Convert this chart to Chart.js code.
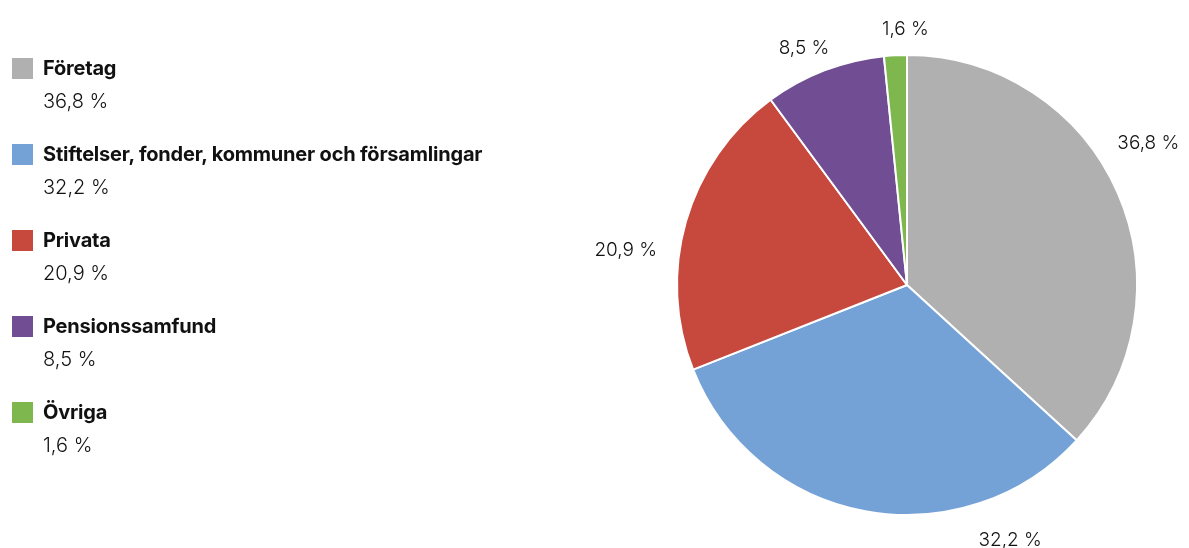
<!DOCTYPE html>
<html>
<head>
<meta charset="utf-8">
<script src="https://cdn.jsdelivr.net/npm/chart.js@4/dist/chart.umd.min.js"></script>
<style>
  html, body { margin: 0; padding: 0; background: #fff; }
  #wrap { position: relative; width: 1189px; height: 548px; font-family: Inter, "Open Sans", sans-serif; color: #111; }
  #chart { position: absolute; left: 0; top: 0; }
  #legend { position: absolute; left: 12px; top: 58px; }
  .item { position: relative; height: 86px; }
  .box { position: absolute; left: 0; top: 0; width: 21px; height: 21px; }
  .name { position: absolute; left: 31px; top: -2px; font-size: 20px; font-weight: 700; white-space: nowrap; letter-spacing: -0.2px; }
  .val { position: absolute; left: 31px; top: 31px; font-size: 20px; font-weight: 300; white-space: nowrap; }
</style>
</head>
<body>
<div id="wrap">
  <canvas id="chart" width="1189" height="548"></canvas>
  <div id="legend"></div>
</div>
<script>
const categories = ["Företag", "Stiftelser, fonder, kommuner och församlingar", "Privata", "Pensionssamfund", "Övriga"];
const shares = [36.8, 32.2, 20.9, 8.5, 1.6];
const colors = ["#b0b0b0", "#74a2d6", "#c7493e", "#714e94", "#7fb74f"];

const fmt = (v) => v.toFixed(1).replace(".", ",") + " %";

// legend on the left, built from the same arrays
const legend = document.getElementById("legend");
categories.forEach((c, i) => {
  const el = document.createElement("div");
  el.className = "item";
  el.innerHTML = '<div class="box" style="background:' + colors[i] + '"></div>' +
    '<div class="name">' + c + '</div><div class="val">' + fmt(shares[i]) + '</div>';
  legend.appendChild(el);
});

// percent labels outside the pie, placed along each arc
const outLabels = {
  id: "outLabels",
  afterDatasetsDraw(chart, args, opts) {
    const ctx = chart.ctx;
    const meta = chart.getDatasetMeta(0);
    ctx.save();
    ctx.font = opts.font;
    ctx.fillStyle = opts.color;
    ctx.textAlign = "center";
    ctx.textBaseline = "middle";
    meta.data.forEach((arc, i) => {
      const a = arc.startAngle + (arc.endAngle - arc.startAngle) * opts.anchors[i];
      const txt = fmt(shares[i]);
      const hw = ctx.measureText(txt).width / 2, hh = 10;
      const c = Math.cos(a), s = Math.sin(a);
      const ext = Math.abs(hw * c) + Math.abs(hh * s);
      const d = arc.outerRadius + opts.gaps[i] + ext;
      ctx.fillText(txt, arc.x + d * c, arc.y + d * s);
    });
    ctx.restore();
  }
};

new Chart(document.getElementById("chart"), {
  type: "pie",
  data: {
    labels: categories,
    datasets: [{
      data: shares,
      backgroundColor: colors,
      borderColor: "#ffffff",
      borderWidth: 2,
    }],
  },
  options: {
    responsive: false,
    animation: false,
    layout: { padding: { left: 676, right: 51, top: 54, bottom: 32 } },
    plugins: {
      legend: { display: false },
      tooltip: { enabled: false },
      outLabels: {
        font: "300 19px Inter, 'Open Sans', sans-serif",
        color: "#111",
        gaps: [18, 24, 21, 9, 16],
        anchors: [0.45, 0.22, 0.38, 0.42, 0.94],
      },
    },
  },
  plugins: [outLabels],
});
</script>
</body>
</html>
